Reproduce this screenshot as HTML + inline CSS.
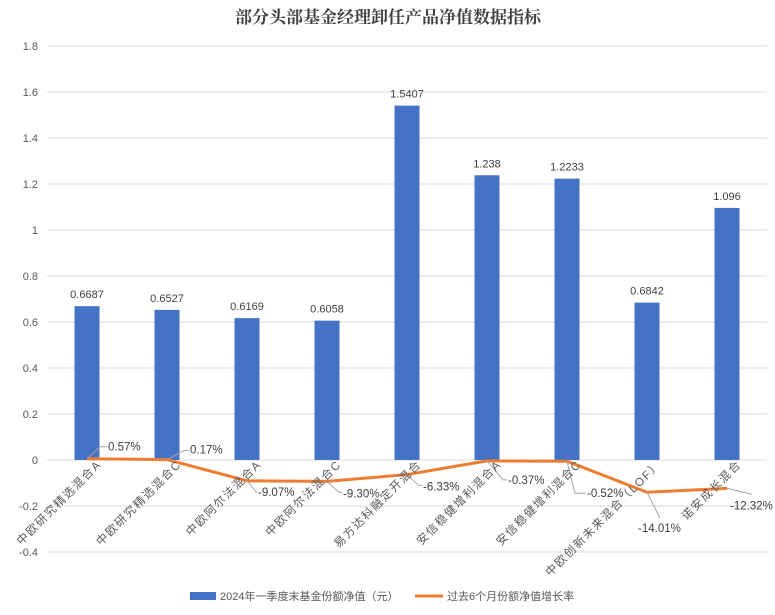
<!DOCTYPE html>
<html><head><meta charset="utf-8">
<style>
body{margin:0;background:#fff;}
svg{display:block;font-family:"Liberation Sans","Noto Sans CJK SC",sans-serif;}
</style></head>
<body>
<svg id="chart" width="775" height="615">
<text x="388" y="23" text-anchor="middle" font-size="17" font-weight="bold" fill="#404040" font-family="'Noto Serif CJK SC','Noto Sans CJK SC',serif">部分头部基金经理卸任产品净值数据指标</text>
<g id="grid"></g><g id="bars"></g><g id="line"></g><g id="xlabels"></g>
<g>
<rect x="190" y="592" width="26" height="8" fill="#4472C4"/>
<text x="220" y="600" font-size="11" fill="#595959">2024年一季度末基金份额净值（元）</text>
<line x1="415" y1="596" x2="443" y2="596" stroke="#ED7D31" stroke-width="3"/>
<text x="447" y="600" font-size="11" fill="#595959">过去6个月份额净值增长率</text>
</g>
</svg>
<script>
const categories=["中欧研究精选混合A","中欧研究精选混合C","中欧阿尔法混合A","中欧阿尔法混合C","易方达科融定开混合","安信稳健增利混合A","安信稳健增利混合C","中欧创新未来混合（LOF）","诺安成长混合"];
const navValues=[0.6687,0.6527,0.6169,0.6058,1.5407,1.238,1.2233,0.6842,1.096];
const navLabels=["0.6687","0.6527","0.6169","0.6058","1.5407","1.238","1.2233","0.6842","1.096"];
const growthPct=[0.57,0.17,-9.07,-9.30,-6.33,-0.37,-0.52,-14.01,-12.32];
const yTicks=[1.8,1.6,1.4,1.2,1,0.8,0.6,0.4,0.2,0,-0.2,-0.4];
const yTickLabels=["1.8","1.6","1.4","1.2","1","0.8","0.6","0.4","0.2","0","-0.2","-0.4"];
const NS="http://www.w3.org/2000/svg";
const y=v=>460-v*230;
const x=i=>87+i*80;
function mk(tag,attrs,parent,txt){const e=document.createElementNS(NS,tag);for(const k in attrs)e.setAttribute(k,attrs[k]);if(txt!==undefined)e.textContent=txt;parent.appendChild(e);return e;}
const grid=document.getElementById('grid');
yTicks.forEach((t,i)=>{
 const l=mk('line',{x1:47,x2:767,y1:y(t),y2:y(t),stroke:'#d9d9d9','stroke-width':1},grid);
 
 
 const tx=mk('text',{x:38,y:y(t)+4,'text-anchor':'end','font-size':11,fill:'#595959'},grid,yTickLabels[i]);
 
 
});
const bars=document.getElementById('bars');
navValues.forEach((v,i)=>{
 const r=mk('rect',{x:x(i)-12.5,y:y(v),width:25,height:y(0)-y(v),fill:'#4472C4'},bars);
 
 
 const t=mk('text',{x:x(i),y:y(v)-8,'text-anchor':'middle','font-size':11,fill:'#404040'},bars,navLabels[i]);
 
 
});
const lg=document.getElementById('line');
const pts=growthPct.map((p,i)=>[x(i),y(p/100)]);
const pl=mk('polyline',{points:pts.map(p=>p.join(',')).join(' '),fill:'none',stroke:'#ED7D31','stroke-width':3,'stroke-linejoin':'round'},lg);


// label text offset [dx,dy] and leader end offset [lx,ly] relative to point
const toff=[[21,-8],[23,-6],[11,15],[16,16],[16,16],[21,23],[20,36],[-9,40],[3,21]];
const loff=[[13,-12],[17,-9],[9,11],[12,11],[12,11],[16,19],[8,32],[13,26],[25,6]];
growthPct.forEach((p,i)=>{
 const [px,py]=pts[i];const [dx,dy]=toff[i];const [lx,ly]=loff[i];
 const ld=mk('polyline',{points:`${px},${py} ${px+lx},${py+ly} ${i===7||i===8?px+lx:px+dx-1},${i===7||i===8?py+ly:py+ly}`,fill:'none',stroke:'#a6a6a6','stroke-width':1},lg);
 
 
 const t=mk('text',{x:px+dx,y:py+dy,'font-size':11.5,fill:'#404040'},lg,p.toFixed(2)+'%');
 
 
});
const xl=document.getElementById('xlabels');
categories.forEach((c,i)=>{
 const t=mk('text',{transform:`translate(${x(i)+15},${465}) rotate(-45)`,'text-anchor':'end','font-size':11.5,'letter-spacing':'1.6',fill:'#595959'},xl,c);
 
 
});
</script>
</body></html>
